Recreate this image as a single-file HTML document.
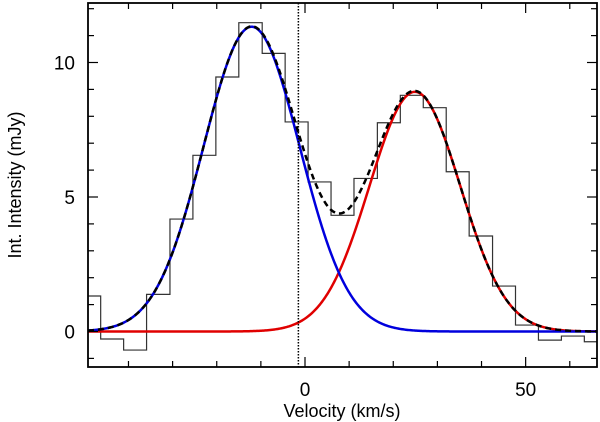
<!DOCTYPE html>
<html><head><meta charset="utf-8"><style>
body{margin:0;background:#fff;}
svg{display:block;font-family:"Liberation Sans","DejaVu Sans",sans-serif;}
</style></head><body>
<svg id="chart" width="600" height="422" viewBox="0 0 600 422" xmlns="http://www.w3.org/2000/svg"></svg>
<script>
const binEdges=[-49.2,-46.3,-41.1,-35.9,-30.6,-25.4,-20.2,-15.0,-9.7,-4.5,0.7,5.9,11.1,16.4,21.6,26.8,32.0,37.2,42.5,47.7,52.9,58.1,63.3,66.2];
const binValues=[1.32,-0.28,-0.69,1.38,4.18,6.55,9.46,11.48,10.34,7.79,5.56,4.32,5.69,7.76,8.78,8.32,5.94,3.55,1.69,0.24,-0.32,-0.17,-0.38];
const blueGauss=[11.33,-12.1,10.9];
const redGauss=[8.91,24.9,10.3];
const xTicks=[0,50];
const yTicks=[0,5,10];
const markerVelocity=-1.5;
const NS="http://www.w3.org/2000/svg";
const svg=document.getElementById('chart');
const L=88,R=597,T=3,B=367;
const X0=305,XS=4.413,Y0=331.5,YS=26.9;
const xs=v=>X0+v*XS, ys=v=>Y0-v*YS;
const xmin=(L-X0)/XS, xmax=(R-X0)/XS;
function mk(tag,attrs){const e=document.createElementNS(NS,tag);for(const k in attrs)e.setAttribute(k,attrs[k]);svg.appendChild(e);return e;}
let d="M"+xs(binEdges[0])+","+ys(binValues[0]);
for(let i=0;i<binValues.length;i++){
  if(i>0)d+=" L"+xs(binEdges[i])+","+ys(binValues[i]);
  d+=" L"+xs(binEdges[i+1])+","+ys(binValues[i]);
}
const h=mk('path',{d:d,fill:'none',stroke:'#333',"stroke-width":1.2});


function g(p,v){return p[0]*Math.exp(-Math.pow(v-p[1],2)/(2*p[2]*p[2]));}
function curve(f,color,dash,name){
  let s="";for(let v=xmin;v<=xmax;v+=0.25){s+=(s?" L":"M")+xs(v).toFixed(2)+","+ys(f(v)).toFixed(2);}
  const e=mk('path',{d:s,fill:'none',stroke:color,"stroke-width":2.5});
  if(dash)e.setAttribute('stroke-dasharray',dash);
  
  
}
curve(v=>g(redGauss,v),'#e00000',null,'red-gaussian-fit');
curve(v=>g(blueGauss,v),'#0000dd',null,'blue-gaussian-fit');
curve(v=>g(redGauss,v)+g(blueGauss,v),'#000','6,4','total-fit');
const vl=mk('line',{x1:xs(markerVelocity),x2:xs(markerVelocity),y1:T,y2:B,stroke:'#000',"stroke-width":1.5,"stroke-dasharray":"1.5,1.5"});


const fr=mk('rect',{x:L,y:T,width:R-L,height:B-T,fill:'none',stroke:'#000',"stroke-width":1.8});


for(let v=-40;v<=60;v+=10){const big=v%50===0;const l=big?10:6;
  mk('line',{x1:xs(v),x2:xs(v),y1:B,y2:B-l,stroke:'#000',"stroke-width":1.2});
  mk('line',{x1:xs(v),x2:xs(v),y1:T,y2:T+l,stroke:'#000',"stroke-width":1.2});}
for(let v=-1;v<=12;v++){const big=v%5===0;const l=big?10:6;
  mk('line',{x1:L,x2:L+l,y1:ys(v),y2:ys(v),stroke:'#000',"stroke-width":1.2});
  mk('line',{x1:R,x2:R-l,y1:ys(v),y2:ys(v),stroke:'#000',"stroke-width":1.2});}
xTicks.forEach(v=>{const t=mk('text',{x:xs(v),y:396,"text-anchor":"middle","font-size":19});t.textContent=v;
  });
yTicks.forEach(v=>{const t=mk('text',{x:75,y:ys(v)+7,"text-anchor":"end","font-size":19});t.textContent=v;
  });
const xt=mk('text',{x:342,y:417,"text-anchor":"middle","font-size":18});xt.textContent="Velocity (km/s)";

const yt=mk('text',{x:0,y:0,"text-anchor":"middle","font-size":18,transform:"translate(21,185) rotate(-90)"});yt.textContent="Int. Intensity (mJy)";

</script>
</body></html>
